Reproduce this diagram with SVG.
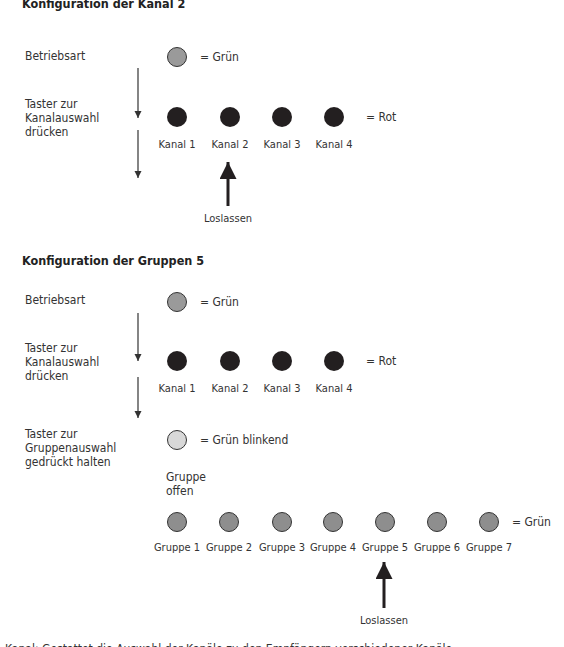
<svg xmlns="http://www.w3.org/2000/svg" width="564" height="647" viewBox="0 0 564 647">
<defs>
<style>
text{font-family:"Liberation Sans Narrow","DejaVu Sans Condensed","Liberation Sans",sans-serif;font-size:12px;fill:#333}
.t{font-weight:bold;fill:#222;font-size:12.5px}
.c{text-anchor:middle;font-size:11px}
.g{fill:#9a9a9a;stroke:#333;stroke-width:1}
.k{fill:#231f20}
.l{fill:#d8d8d8;stroke:#333;stroke-width:1}
.gg{fill:#8e8e8e;stroke:#333;stroke-width:1}
.thin{stroke:#333;stroke-width:1.2;fill:none}
.thick{stroke:#231f20;stroke-width:3;fill:none}
</style>
<marker id="sa" viewBox="0 0 10 10" refX="10" refY="5" markerWidth="7" markerHeight="8" markerUnits="userSpaceOnUse" orient="auto"><path d="M0,0L10,5L0,10z" fill="#333"/></marker>
<marker id="ba" viewBox="0 0 10 10" refX="10" refY="5" markerWidth="18" markerHeight="17" markerUnits="userSpaceOnUse" orient="auto"><path d="M0,0L10,5L0,10z" fill="#231f20"/></marker>
</defs>
<text class="t" x="22" y="8">Konfiguration der Kanal 2</text>
<g id="s1-labels">
<text x="25" y="60">Betriebsart</text>
<text x="25" y="108">Taster zur</text>
<text x="25" y="122">Kanalauswahl</text>
<text x="25" y="136">drücken</text>
</g>
<g id="s1-gruen"><circle class="g" cx="177" cy="57" r="9.5"/><text x="200" y="61">= Grün</text></g>
<g id="s1-kanal1"><circle class="k" cx="177" cy="117" r="10"/><text class="c" x="177" y="148">Kanal 1</text></g>
<g id="s1-kanal2"><circle class="k" cx="230" cy="117" r="10"/><text class="c" x="230" y="148">Kanal 2</text></g>
<g id="s1-kanal3"><circle class="k" cx="282" cy="117" r="10"/><text class="c" x="282" y="148">Kanal 3</text></g>
<g id="s1-kanal4"><circle class="k" cx="334" cy="117" r="10"/><text class="c" x="334" y="148">Kanal 4</text></g>
<text x="366" y="121">= Rot</text>
<text class="c" x="228" y="222">Loslassen</text>

<text class="t" x="22" y="265">Konfiguration der Gruppen 5</text>
<g id="s2-labels">
<text x="25" y="304">Betriebsart</text>
<text x="25" y="352">Taster zur</text>
<text x="25" y="366">Kanalauswahl</text>
<text x="25" y="380">drücken</text>
<text x="25" y="438">Taster zur</text>
<text x="25" y="452">Gruppenauswahl</text>
<text x="25" y="466">gedrückt halten</text>
</g>
<g id="s2-gruen"><circle class="g" cx="177" cy="302" r="9.5"/><text x="200" y="306">= Grün</text></g>
<g id="s2-kanal1"><circle class="k" cx="177" cy="361" r="10"/><text class="c" x="177" y="392">Kanal 1</text></g>
<g id="s2-kanal2"><circle class="k" cx="230" cy="361" r="10"/><text class="c" x="230" y="392">Kanal 2</text></g>
<g id="s2-kanal3"><circle class="k" cx="282" cy="361" r="10"/><text class="c" x="282" y="392">Kanal 3</text></g>
<g id="s2-kanal4"><circle class="k" cx="334" cy="361" r="10"/><text class="c" x="334" y="392">Kanal 4</text></g>
<text x="366" y="365">= Rot</text>
<g id="s2-offen"><circle class="l" cx="177" cy="440" r="9.5"/><text x="200" y="444">= Grün blinkend</text><text x="166" y="481">Gruppe</text><text x="166" y="495">offen</text></g>
<g id="gruppe1"><circle class="gg" cx="177" cy="522" r="9.5"/><text class="c" x="177" y="551">Gruppe 1</text></g>
<g id="gruppe2"><circle class="gg" cx="229" cy="522" r="9.5"/><text class="c" x="229" y="551">Gruppe 2</text></g>
<g id="gruppe3"><circle class="gg" cx="282" cy="522" r="9.5"/><text class="c" x="282" y="551">Gruppe 3</text></g>
<g id="gruppe4"><circle class="gg" cx="333" cy="522" r="9.5"/><text class="c" x="333" y="551">Gruppe 4</text></g>
<g id="gruppe5"><circle class="gg" cx="385" cy="522" r="9.5"/><text class="c" x="385" y="551">Gruppe 5</text></g>
<g id="gruppe6"><circle class="gg" cx="437" cy="522" r="9.5"/><text class="c" x="437" y="551">Gruppe 6</text></g>
<g id="gruppe7"><circle class="gg" cx="489" cy="522" r="9.5"/><text class="c" x="489" y="551">Gruppe 7</text></g>
<text x="512" y="526">= Grün</text>
<text class="c" x="384" y="624">Loslassen</text>

<g id="connectors">
<line class="thin" x1="138" y1="68" x2="138" y2="118" marker-end="url(#sa)"/>
<line class="thin" x1="138" y1="130" x2="138" y2="178" marker-end="url(#sa)"/>
<line class="thick" x1="228" y1="206" x2="228" y2="162" marker-end="url(#ba)"/>
<line class="thin" x1="138" y1="313" x2="138" y2="361" marker-end="url(#sa)"/>
<line class="thin" x1="138" y1="377" x2="138" y2="418" marker-end="url(#sa)"/>
<line class="thick" x1="384" y1="608" x2="384" y2="562" marker-end="url(#ba)"/>
</g>
<text x="5" y="653">Kanal: Gestattet die Auswahl der Kanäle zu den Empfängern verschiedener Kanäle</text>
</svg>
